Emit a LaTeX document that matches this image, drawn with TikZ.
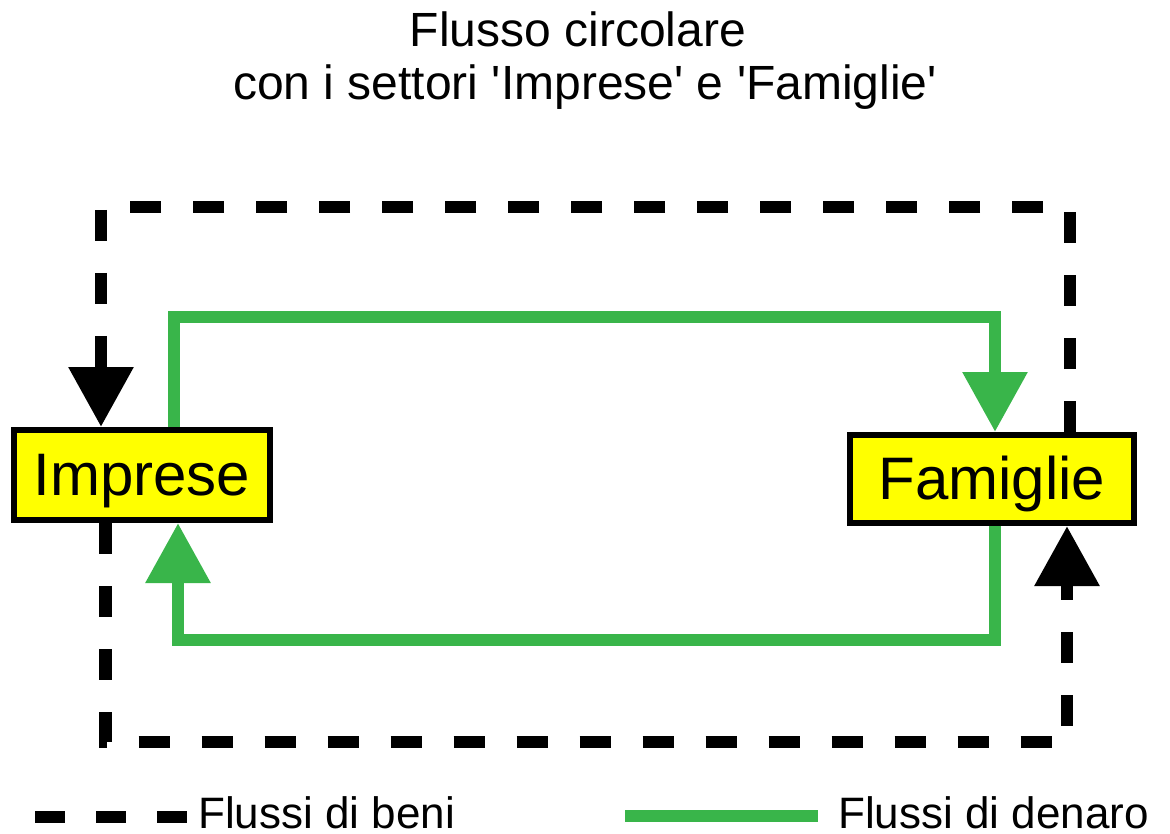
\documentclass[tikz,border=0pt]{standalone}
\usepackage{fontspec}
\setmainfont{Liberation Sans}
\usetikzlibrary{arrows.meta,calc}
\definecolor{verde}{HTML}{39B54A}
\definecolor{giallo}{HTML}{FFFF00}
\begin{document}
\begin{tikzpicture}[x=1pt,y=-1pt,
  box/.style={draw=black, fill=giallo, line width=6pt, inner sep=0pt,
    text height=40pt, text depth=0pt, font=\fontsize{60}{63}\selectfont},
  money/.style={draw=verde, line width=12.5pt, line join=miter,
    -{Triangle[width=62pt,length=60pt]}},
  goods/.style={draw=black, line width=12.5pt, line join=miter,
    dash pattern=on 31pt off 32pt, -{Triangle[width=62pt,length=60pt]}},
  titletext/.style={anchor=base, inner sep=0pt, font=\fontsize{48}{53}\selectfont},
  legtext/.style={anchor=base west, inner sep=0pt, font=\fontsize{44}{48}\selectfont}]
\useasboundingbox (0,0) rectangle (1170,834);
% title
\node[titletext] (t1) at (578,47) {Flusso circolare};
\node[titletext] (t2) at (585,100) {con i settori \textquotesingle Imprese\textquotesingle{} e \textquotesingle Famiglie\textquotesingle};
% boxes
\node[box, minimum width=256.5pt, minimum height=90pt] (imp) at (141.75,475) {Imprese};
\node[box, minimum width=284pt, minimum height=88pt] (fam) at (992,479) {Famiglie};
% money flows
\draw[money] ([xshift=32.25pt]imp.north) -- ++(0,-110) -| ([xshift=3pt]fam.north);
\draw[money] ([xshift=3pt]fam.south) -- ++(0,114) -| ([xshift=36.25pt]imp.south);
% goods flows
\draw[goods] ([xshift=78pt]fam.north) -- ++(0,-225) -| ([xshift=-40.75pt]imp.north);
\draw[goods] ([xshift=-36.25pt]imp.south) -- ++(0,219) -| ([xshift=75pt]fam.south);
% legend
\coordinate (lg1a) at (35,817);
\coordinate (lg1b) at (187,817);
\draw[black, line width=12.5pt, dash pattern=on 30pt off 31pt] (lg1a) -- (lg1b);
\node[legtext] (lt1) at (198,828) {Flussi di beni};
\coordinate (lg2a) at (625,816);
\coordinate (lg2b) at (818,816);
\draw[verde, line width=12.5pt] (lg2a) -- (lg2b);
\node[legtext] (lt2) at (838,828) {Flussi di denaro};
\end{tikzpicture}
\end{document}
